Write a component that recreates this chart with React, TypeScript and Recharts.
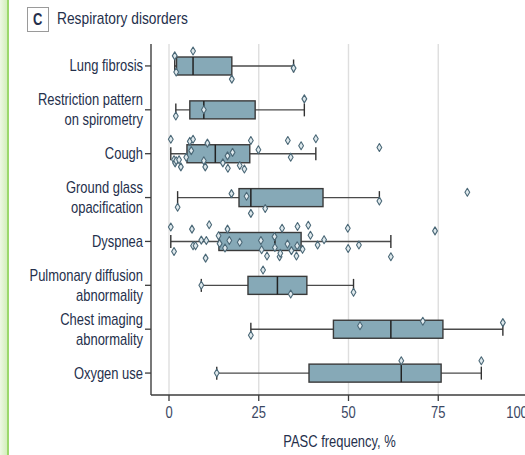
import React from 'react';
import { ComposedChart, Bar, Scatter, XAxis, YAxis, CartesianGrid } from 'recharts';

const categories = [
  'Lung fibrosis',
  'Restriction pattern\non spirometry',
  'Cough',
  'Ground glass\nopacification',
  'Dyspnea',
  'Pulmonary diffusion\nabnormality',
  'Chest imaging\nabnormality',
  'Oxygen use',
];

const whiskerLow = [1.6, 1.9, 0.5, 2.4, 0.5, 9.0, 22.8, 13.3];
const quartile1 = [2.1, 5.8, 5.0, 19.5, 13.9, 22.0, 45.8, 39.0];
const medians = [6.7, 9.7, 12.9, 22.8, 29.5, 30.2, 61.8, 64.7];
const quartile3 = [17.5, 24.0, 22.5, 42.9, 36.8, 38.4, 76.3, 75.8];
const whiskerHigh = [34.7, 37.7, 40.9, 58.6, 61.8, 51.4, 93.0, 87.0];

// study-level values per category, with vertical jitter (fraction of a row)
const lungFibrosisPts = [1.6, 6.7, 2.0, 17.5, 34.7];
const lungFibrosisJit = [-0.23, -0.34, 0.14, 0.3, 0.05];
const restrictionPts = [1.9, 9.7, 37.7];
const restrictionJit = [0.14, 0, -0.25];
const coughPts = [0.5, 1.4, 1.7, 2.0, 2.8, 3.3, 4.8, 5.8, 6.2, 6.7, 9.7, 10.1, 10.7, 15.0, 16.3, 16.4, 17.7, 19.7, 21.0, 22.8, 24.9, 33.1, 33.9, 36.8, 40.9, 58.6];
const coughJit = [-0.33, 0.14, 0.21, 0.16, 0.14, 0.3, 0.08, -0.28, -0.07, -0.33, 0.16, 0.3, -0.24, 0.21, 0.05, 0.33, -0.03, 0.27, 0.35, -0.3, -0.09, -0.3, 0.08, -0.18, -0.34, -0.14];
const groundGlassPts = [2.4, 17.4, 21.6, 22.8, 26.8, 58.6, 83.1];
const groundGlassJit = [0.22, -0.09, -0.03, 0.36, 0.25, 0.08, -0.12];
const dyspneaPts = [0.5, 1.4, 6.4, 6.7, 7.4, 9.0, 10.4, 10.2, 11.2, 13.8, 14.1, 15.6, 16.3, 16.8, 19.7, 25.6, 25.8, 27.3, 29.4, 29.5, 30.8, 31.0, 31.5, 33.0, 34.1, 35.5, 35.7, 35.8, 37.2, 38.8, 39.4, 41.4, 43.2, 49.8, 49.9, 52.9, 61.8, 74.1];
const dyspneaJit = [-0.33, 0.23, -0.28, 0.1, 0.1, -0.03, -0.02, 0.38, -0.38, -0.13, 0.05, 0.15, -0.28, -0.02, 0.02, -0.02, 0.19, 0.33, -0.11, 0.14, 0.35, 0.27, -0.3, 0.06, 0.21, 0.33, 0.1, -0.34, 0.18, -0.37, -0.14, 0.08, -0.04, -0.3, 0.16, 0.08, 0.35, -0.24];
const pulmonaryPts = [9.0, 26.2, 33.9, 51.4];
const pulmonaryJit = [0, -0.35, 0.2, 0.16];
const chestImagingPts = [22.8, 53.2, 70.7, 93.0];
const chestImagingJit = [0.14, -0.08, -0.18, -0.15];
const oxygenPts = [13.3, 64.7, 87.0];
const oxygenJit = [0, -0.28, -0.28];

const xTicks = [0, 25, 50, 75, 100];

const pointSets = [
  [lungFibrosisPts, lungFibrosisJit],
  [restrictionPts, restrictionJit],
  [coughPts, coughJit],
  [groundGlassPts, groundGlassJit],
  [dyspneaPts, dyspneaJit],
  [pulmonaryPts, pulmonaryJit],
  [chestImagingPts, chestImagingJit],
  [oxygenPts, oxygenJit],
];

const boxData = categories.map((name, i) => ({
  name,
  lo: whiskerLow[i],
  q1: quartile1[i],
  med: medians[i],
  q3: quartile3[i],
  hi: whiskerHigh[i],
}));

const pointData = pointSets.flatMap(([vals, jit], i) =>
  vals.map((v, j) => ({ v, pos: i + jit[j] }))
);

const FONT = "'Liberation Sans', Arial, sans-serif";
const TEXT = '#25304c';
const SQUEEZE = 0.81;

const BoxShape = (props: any) => {
  const { x, y, width, height, payload } = props;
  const { lo, q1, med, q3, hi } = payload;
  const k = width / (hi - lo);
  const px = (v: number) => x + (v - lo) * k;
  const cy = y + height / 2;
  const cap = 6.5;
  return (
    <g>
      <line x1={px(lo)} x2={px(hi)} y1={cy} y2={cy} stroke="#4a4a4a" strokeWidth={1.4} />
      <line x1={px(lo)} x2={px(lo)} y1={cy - cap} y2={cy + cap} stroke="#333" strokeWidth={1.4} />
      <line x1={px(hi)} x2={px(hi)} y1={cy - cap} y2={cy + cap} stroke="#333" strokeWidth={1.4} />
      <rect x={px(q1)} y={y} width={px(q3) - px(q1)} height={height} fill="#86a9b7" stroke="#3a3a3a" strokeWidth={1.4} />
      <line x1={px(med)} x2={px(med)} y1={y} y2={y + height} stroke="#222" strokeWidth={1.5} />
    </g>
  );
};

const Diamond = (props: any) => {
  const { cx, cy } = props;
  if (cx == null || cy == null) return null;
  return (
    <path
      d={`M${cx},${cy - 4} L${cx + 2.4},${cy} L${cx},${cy + 4} L${cx - 2.4},${cy} Z`}
      fill="#dfe9ed"
      stroke="#4b6877"
      strokeWidth={1.1}
      strokeLinejoin="round"
    />
  );
};

const YTick = (props: any) => {
  const { x, y, payload } = props;
  const lines = String(payload.value).split('\n');
  const lh = 20;
  return (
    <text
      transform={`translate(${x},${y}) scale(${SQUEEZE},1)`}
      textAnchor="end"
      fontSize={16}
      fill={TEXT}
      fontFamily={FONT}
    >
      {lines.map((l, i) => (
        <tspan key={i} x={0} dy={i === 0 ? -((lines.length - 1) * lh) / 2 + 5.5 : lh}>
          {l}
        </tspan>
      ))}
    </text>
  );
};

const XTick = (props: any) => {
  const { x, y, payload } = props;
  return (
    <text
      transform={`translate(${x},${y}) scale(${SQUEEZE},1)`}
      textAnchor="middle"
      dy={12.5}
      fontSize={16}
      fill="#3b4763"
      fontFamily={FONT}
    >
      {payload.value}
    </text>
  );
};

const XLabel = (props: any) => {
  const vb = props.viewBox || {};
  const cx = vb.x + vb.width / 2;
  const by = vb.y + vb.height - 8;
  return (
    <text
      transform={`translate(${cx},${by}) scale(${SQUEEZE},1)`}
      textAnchor="middle"
      fontSize={16}
      fill={TEXT}
      fontFamily={FONT}
    >
      PASC frequency, %
    </text>
  );
};

export default function App() {
  return (
    <div
      style={{
        position: 'absolute',
        left: 0,
        top: 0,
        width: 525,
        height: 455,
        overflow: 'hidden',
        background: '#fff',
        fontFamily: FONT,
      }}
    >
      <div
        style={{
          position: 'absolute',
          left: 0,
          top: 0,
          width: 7,
          height: 455,
          background: 'linear-gradient(to right, #eef8e4, #d3efbb)',
          borderRight: '2px solid #9cd86c',
        }}
      />
      <div
        style={{
          position: 'absolute',
          left: 27,
          top: 7,
          width: 22,
          height: 25,
          boxSizing: 'border-box',
          border: '1px solid #9a9a9a',
          color: TEXT,
          fontWeight: 'bold',
          fontSize: 16,
          lineHeight: '23px',
          textAlign: 'center',
        }}
      >
        <span style={{ display: 'inline-block', transform: `scale(${SQUEEZE},1)` }}>C</span>
      </div>
      <div
        style={{
          position: 'absolute',
          left: 57,
          top: 9,
          fontSize: 17,
          lineHeight: '20px',
          color: TEXT,
          whiteSpace: 'nowrap',
          transform: `scale(${SQUEEZE},1)`,
          transformOrigin: 'left center',
        }}
      >
        Respiratory disorders
      </div>
      <div style={{ position: 'absolute', left: 0, top: 0 }}>
        <ComposedChart
          width={529}
          height={455}
          layout="vertical"
          data={boxData}
          margin={{ top: 44, right: 1, bottom: 0, left: 0 }}
        >
          <CartesianGrid horizontal={false} stroke="#dedede" strokeWidth={1.4} yAxisId="cat" />
          <XAxis
            type="number"
            dataKey="v"
            domain={[0, 100]}
            ticks={xTicks}
            padding={{ left: 18, right: 0 }}
            height={60}
            axisLine={{ stroke: '#3d3d3d', strokeWidth: 1.3 }}
            tickLine={{ stroke: '#3d3d3d', strokeWidth: 1.3 }}
            tickSize={6}
            tickMargin={4}
            tick={<XTick />}
            label={<XLabel />}
          />
          <YAxis
            yAxisId="cat"
            type="category"
            dataKey="name"
            width={151}
            axisLine={{ stroke: '#3d3d3d', strokeWidth: 1.3 }}
            tickLine={{ stroke: '#3d3d3d', strokeWidth: 1.3 }}
            tickSize={6}
            tickMargin={2}
            tick={<YTick />}
            interval={0}
          />
          <YAxis yAxisId="pts" type="number" dataKey="pos" domain={[-0.5, 7.5]} hide />
          <Bar
            yAxisId="cat"
            dataKey={(d: any) => [d.lo, d.hi]}
            barSize={18}
            shape={<BoxShape />}
            isAnimationActive={false}
          />
          <Scatter
            yAxisId="pts"
            data={pointData}
            dataKey="v"
            shape={<Diamond />}
            isAnimationActive={false}
          />
        </ComposedChart>
      </div>
    </div>
  );
}
